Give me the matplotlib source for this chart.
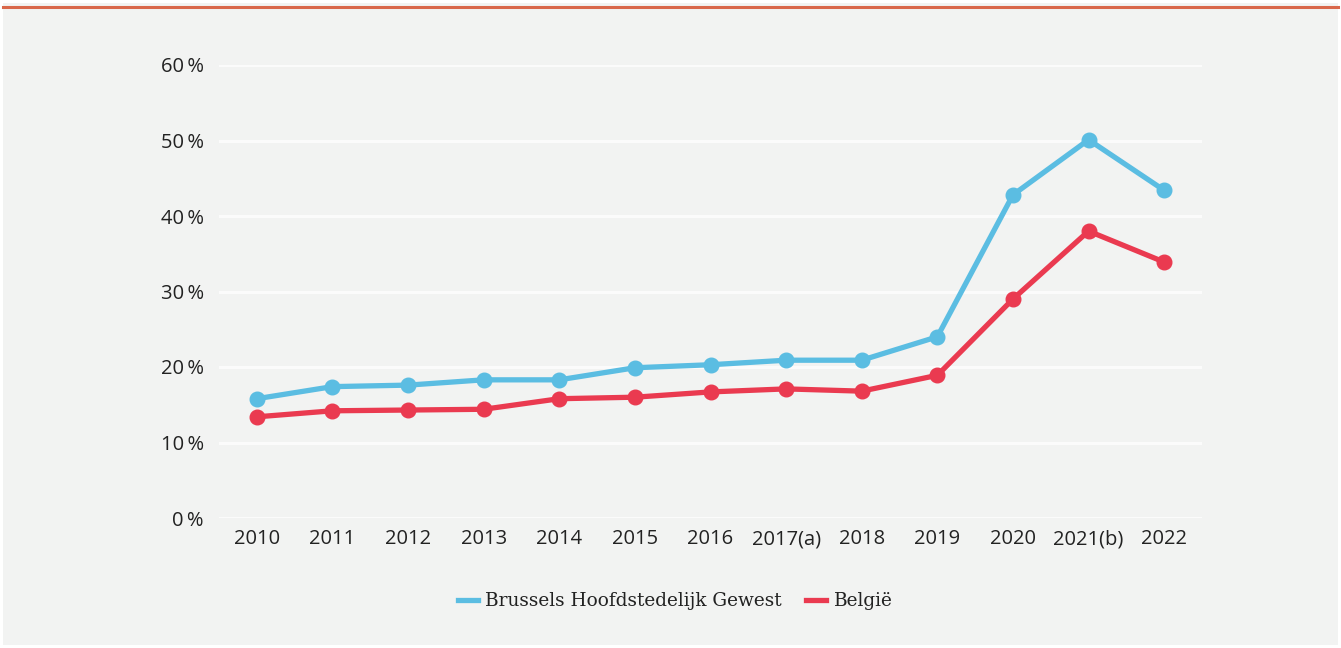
import matplotlib
matplotlib.use("Agg")
import matplotlib.pyplot as plt
from matplotlib.patches import Rectangle
from matplotlib.lines import Line2D

years = ["2010", "2011", "2012", "2013", "2014", "2015", "2016", "2017(a)", "2018", "2019", "2020", "2021(b)", "2022"]
brussels = [15.8, 17.4, 17.6, 18.3, 18.3, 19.9, 20.3, 20.9, 20.9, 24.0, 42.8, 50.1, 43.4]
belgie = [13.4, 14.2, 14.3, 14.4, 15.8, 16.0, 16.7, 17.1, 16.8, 18.9, 29.0, 38.0, 33.9]
yticks = [0, 10, 20, 30, 40, 50, 60]
series_names = ["Brussels Hoofdstedelijk Gewest", "België"]

W, H = 1341, 648
fig = plt.figure(figsize=(W / 100, H / 100), dpi=100)
fig.patch.set_facecolor("white")
fig.add_artist(Rectangle((3 / W, 3 / H), 1335 / W, (H - 6) / H, transform=fig.transFigure,
                         facecolor="#f2f3f2", edgecolor="none", zorder=0))
fig.add_artist(Line2D([3 / W, 1338 / W], [1 - 7 / H, 1 - 7 / H], transform=fig.transFigure,
                      color="#d9674a", linewidth=2.2, zorder=1))

ax = fig.add_axes([219 / W, 1 - 518 / H, (1202 - 219) / W, (518 - 65) / H])
ax.set_facecolor("none")
x = list(range(len(years)))
blue = "#5bbde2"
red = "#ea3a50"
ax.plot(x, brussels, color=blue, linewidth=3.8, marker="o", markersize=10.5, zorder=3,
        label=series_names[0])
ax.plot(x, belgie, color=red, linewidth=3.8, marker="o", markersize=10.5, zorder=3,
        label=series_names[1])

ax.set_xlim(-0.5, 12.5)
ax.set_ylim(0, 60)
ax.set_yticks(yticks)
ax.set_yticklabels([f"{v}\u2009%" for v in yticks])
ax.set_xticks(x)
ax.set_xticklabels(years)
ax.grid(axis="y", color="#fbfbfb", linewidth=2.2, zorder=0)
ax.set_axisbelow(True)
for s in ax.spines.values():
    s.set_visible(False)
ax.tick_params(axis="both", length=0, labelsize=14.5, labelcolor="#222222")
ax.tick_params(axis="y", pad=11)
ax.tick_params(axis="x", pad=8)
for lab in ax.get_xticklabels() + ax.get_yticklabels():
    lab.set_fontfamily(["Open Sans", "DejaVu Sans"])
for l in ax.lines:
    l.set_clip_on(False)

handles = [Line2D([], [], color=blue, linewidth=3.8), Line2D([], [], color=red, linewidth=3.8)]
leg = fig.legend(handles, series_names, loc="center", bbox_to_anchor=(675 / W, 1 - 601 / H),
                 ncol=2, frameon=False, handlelength=1.1, handletextpad=0.4, columnspacing=1.3,
                 prop={"family": ["DejaVu Serif"], "size": 13.3})
for t in leg.get_texts():
    t.set_color("#222222")

fig.savefig("out.png", dpi=100, facecolor=fig.get_facecolor())
